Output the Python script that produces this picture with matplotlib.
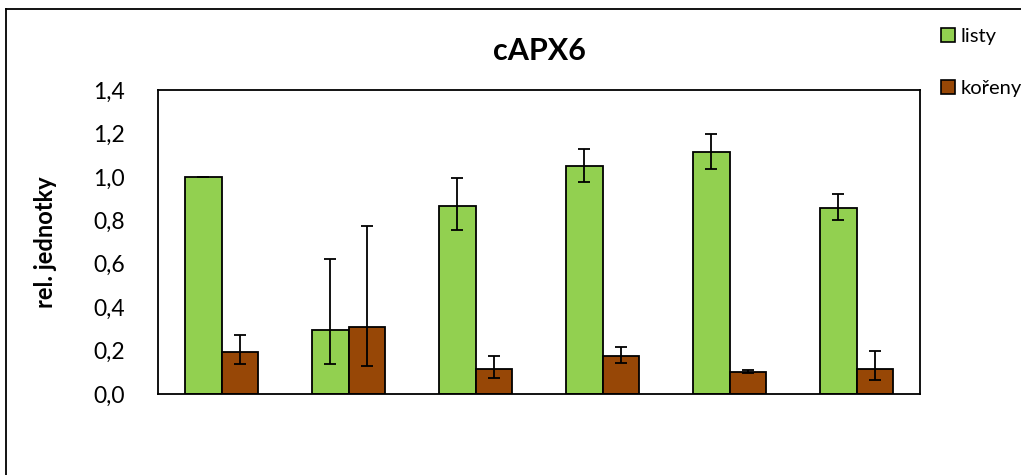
import numpy as np
import matplotlib.pyplot as plt
from matplotlib.lines import Line2D

plt.rcParams['font.family'] = ['Lato', 'DejaVu Sans']

groups = [1, 2, 3, 4, 5, 6]

listy = [1.0, 0.295, 0.867, 1.05, 1.113, 0.858]
listy_err_lo = [0.0, 0.155, 0.11, 0.072, 0.077, 0.058]
listy_err_hi = [0.0, 0.325, 0.13, 0.078, 0.083, 0.064]

koreny = [0.195, 0.31, 0.114, 0.175, 0.103, 0.114]
koreny_err_lo = [0.055, 0.18, 0.039, 0.031, 0.008, 0.048]
koreny_err_hi = [0.075, 0.464, 0.062, 0.04, 0.009, 0.083]

yticks = [0.0, 0.2, 0.4, 0.6, 0.8, 1.0, 1.2, 1.4]

green = '#92D050'
brown = '#974706'

fig = plt.figure(figsize=(10.21, 4.75), dpi=100)
ax = fig.add_axes([0.1548, 0.1705, 0.7463, 0.64])

x = np.arange(len(groups))
w = 0.285

ax.bar(x - w / 2, listy, w, color=green, edgecolor='black', linewidth=1.3,
       yerr=[listy_err_lo, listy_err_hi], capsize=4.5,
       error_kw=dict(elinewidth=1.3, capthick=1.3, ecolor='black'))
ax.bar(x + w / 2, koreny, w, color=brown, edgecolor='black', linewidth=1.3,
       yerr=[koreny_err_lo, koreny_err_hi], capsize=4.5,
       error_kw=dict(elinewidth=1.3, capthick=1.3, ecolor='black'))

ax.set_xlim(-0.5, len(groups) - 0.5)
ax.set_ylim(0, 1.4)
ax.set_yticks(yticks)
ax.set_yticklabels([f'{v:.1f}'.replace('.', ',') for v in yticks], fontsize=16.5)
ax.set_xticks([])
ax.tick_params(axis='y', length=0, pad=24)
for s in ax.spines.values():
    s.set_linewidth(1.3)

ax.set_ylabel('rel. jednotky', fontsize=17, fontweight='bold')
ax.yaxis.set_label_coords(-0.132, 0.5)
fig.text(0.528, 0.893, 'cAPX6', ha='center', va='center', fontsize=22, fontweight='bold')

handles = [
    Line2D([], [], marker='s', linestyle='none', markersize=10,
           markerfacecolor=green, markeredgecolor='black', markeredgewidth=1.2),
    Line2D([], [], marker='s', linestyle='none', markersize=10,
           markerfacecolor=brown, markeredgecolor='black', markeredgewidth=1.2),
]
fig.legend(handles, ['listy', 'kořeny'], loc='upper left',
           bbox_to_anchor=(0.912, 0.962), frameon=False, fontsize=14.5,
           handlelength=0.7, handletextpad=0.25, labelspacing=1.7, borderpad=0)

# outer chart frame
fig.add_artist(Line2D([0.006, 0.006], [0, 0.981], color='black', linewidth=1.3))
fig.add_artist(Line2D([0.006, 1.0], [0.981, 0.981], color='black', linewidth=1.3))

fig.savefig('out.png', dpi=100)
